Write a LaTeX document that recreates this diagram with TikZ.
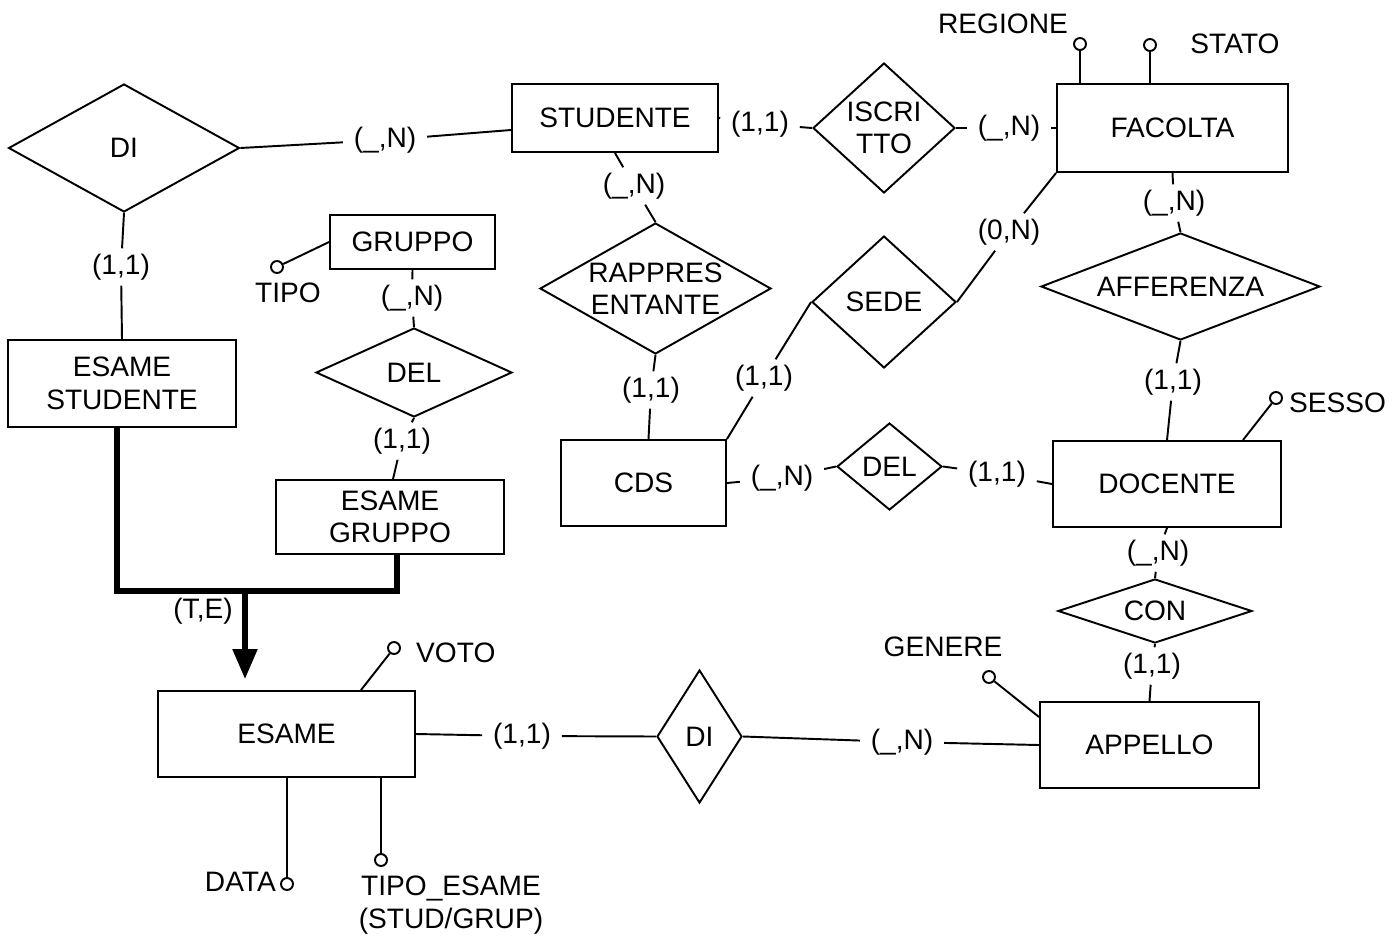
\documentclass[tikz,border=0pt]{standalone}
\usepackage{fontspec}
\setmainfont{Liberation Sans}
\usetikzlibrary{shapes.geometric,arrows.meta}

\tikzset{
	entity/.style 2 args={draw, line width=1.1pt, minimum width=#1, minimum height=#2, inner sep=0pt, align=center},
	relation/.style n args={3}{diamond, draw, line width=1.1pt, minimum width=#1, minimum height=#2, shape aspect=#3, inner sep=0pt, align=center},
	attr/.style={circle, draw, line width=1.1pt, minimum size=0.24cm, inner sep=0pt},
	card/.style={inner xsep=6pt, inner ysep=3pt},
	wire/.style={line width=1.1pt},
	isa/.style={line width=3pt},
}

\begin{document}
\begin{tikzpicture}[x=0.02cm, y=-0.02cm, font=\fontsize{16}{18.5}\selectfont]
	\useasboundingbox (0,0) rectangle (1400,937);
	% Entities and relationships:
	\node[entity={4.12cm}{1.36cm}] (studente) at (615,118) {STUDENTE};
	\node[entity={4.62cm}{1.76cm}] (facolta) at (1172.5,128) {FACOLTA};
	\node[entity={3.3cm}{1.08cm}] (gruppo) at (412.5,242) {GRUPPO};
	\node[entity={4.56cm}{1.74cm}] (esamestud) at (122,383.5) {ESAME\\STUDENTE};
	\node[entity={4.56cm}{1.48cm}] (esamegr) at (390,517) {ESAME\\GRUPPO};
	\node[entity={3.3cm}{1.72cm}] (cds) at (643.5,483) {CDS};
	\node[entity={4.56cm}{1.72cm}] (docente) at (1167,484) {DOCENTE};
	\node[entity={5.14cm}{1.72cm}] (esame) at (286.5,734) {ESAME};
	\node[entity={4.38cm}{1.72cm}] (appello) at (1149.5,745) {APPELLO};
	\node[relation={4.62cm}{2.56cm}{1.8}] (distud) at (124,148) {DI};
	\node[relation={2.84cm}{2.6cm}{1.1}] (iscritto) at (884,128) {ISCRI\\TTO};
	\node[relation={4.62cm}{2.62cm}{1.76}] (rappr) at (655.5,288.5) {RAPPRES\\ENTANTE};
	\node[relation={2.88cm}{2.64cm}{1.1}] (sede) at (884,302) {SEDE};
	\node[relation={5.58cm}{2.14cm}{2.6}] (afferenza) at (1180.5,286.5) {AFFERENZA};
	\node[relation={3.92cm}{1.78cm}{2.2}] (delgruppo) at (414,372.5) {DEL};
	\node[relation={2.1cm}{1.74cm}{1.2}] (delcds) at (889.5,466.5) {DEL};
	\node[relation={3.88cm}{1.28cm}{3}] (con) at (1155,611) {CON};
	\node[relation={1.7cm}{2.66cm}{0.64}] (diappello) at (699.5,736.5) {DI};
	% Attributes:
	\node[attr] (regione) at (1080,44) {};
	\node[anchor=east] (regionetxt) at (1074,24) {REGIONE};
	\node[attr] (stato) at (1150,45) {};
	\node (statotxt) at (1235,44) {STATO};
	\node[attr] (tipo) at (277,267) {};
	\node (tipotxt) at (288,293) {TIPO};
	\node[attr] (sesso) at (1276,398) {};
	\node[anchor=west] (sessotxt) at (1283,403) {SESSO};
	\node[attr] (voto) at (394,648) {};
	\node[anchor=west] (vototxt) at (410,653) {VOTO};
	\node[attr] (data) at (287,884) {};
	\node[anchor=east] (datatxt) at (282,882) {DATA};
	\node[attr] (tipoesame) at (381,860) {};
	\node[align=center] (tipoesametxt) at (451,905) {TIPO\_ESAME\\(STUD/GRUP)};
	\node[attr] (genere) at (989,677) {};
	\node (generetxt) at (943,647) {GENERE};
	\draw[wire] (regione) -- (regione |- facolta.north);
	\draw[wire] (stato) -- (stato |- facolta.north);
	\draw[wire] (tipo) -- (gruppo.west);
	\draw[wire] (sesso) -- ([xshift=1.52cm]docente.north);
	\draw[wire] (voto) -- ([xshift=1.49cm]esame.north);
	\draw[wire] (data) -- (data |- esame.south);
	\draw[wire] (tipoesame) -- (tipoesame |- esame.south);
	\draw[wire] (genere) -- ([yshift=0.56cm]appello.west);
	% Cardinalities and links:
	\node[card] (c1) at (385,140) {(\_,N)};
	\node[card] (c2) at (121,267) {(1,1)};
	\node[card] (c3) at (760,124) {(1,1)};
	\node[card] (c4) at (1009,128) {(\_,N)};
	\node[card] (c5) at (634,186) {(\_,N)};
	\node[card] (c6) at (651,390) {(1,1)};
	\node[card] (c7) at (764,378) {(1,1)};
	\node[card] (c8) at (1009,232) {(0,N)};
	\node[card] (c9) at (1174,203) {(\_,N)};
	\node[card] (c10) at (1173,382) {(1,1)};
	\node[card] (c11) at (782,478) {(\_,N)};
	\node[card] (c12) at (997,474) {(1,1)};
	\node[card] (c13) at (1158,553) {(\_,N)};
	\node[card] (c14) at (1152,666) {(1,1)};
	\node[card] (c15) at (522,736) {(1,1)};
	\node[card] (c16) at (902,742) {(\_,N)};
	\node[card] (c17) at (412,298) {(\_,N)};
	\node[card] (c18) at (402,441) {(1,1)};
	\draw[wire] (distud.east) -- (c1) -- ([yshift=-0.24cm]studente.west);
	\draw[wire] (distud.south) -- (c2) -- (esamestud.north);
	\draw[wire] (studente.east) -- (c3) -- (iscritto.west);
	\draw[wire] (iscritto.east) -- (c4) -- (facolta.west);
	\draw[wire] (studente.south) -- (c5) -- (rappr.north);
	\draw[wire] (rappr.south) -- (c6) -- ([xshift=0.1cm]cds.north);
	\draw[wire] (cds.north east) -- (c7) -- (sede.west);
	\draw[wire] (sede.east) -- (c8) -- (facolta.south west);
	\draw[wire] (facolta.south) -- (c9) -- (afferenza.north);
	\draw[wire] (afferenza.south) -- (c10) -- (docente.north);
	\draw[wire] (cds.east) -- (c11) -- (delcds.west);
	\draw[wire] (delcds.east) -- (c12) -- (docente.west);
	\draw[wire] (docente.south) -- (c13) -- (con.north);
	\draw[wire] (con.south) -- (c14) -- (appello.north);
	\draw[wire] (esame.east) -- (c15) -- (diappello.west);
	\draw[wire] (diappello.east) -- (c16) -- (appello.west);
	\draw[wire] (gruppo.south) -- (c17) -- (delgruppo.north);
	\draw[wire] (delgruppo.south) -- (c18) -- ([xshift=0.06cm]esamegr.north);
	% Generalization:
	\coordinate (gen) at (245,591);
	\node (te) at (203,611) {(T,E)};
	\draw[isa] ([xshift=-0.1cm]esamestud.south) |- (gen) -| ([xshift=0.14cm]esamegr.south);
	\draw[isa, -{Triangle[length=0.6cm, width=0.48cm]}, shorten >=0.22cm] (gen) -- (gen |- esame.north);
\end{tikzpicture}
\end{document}
